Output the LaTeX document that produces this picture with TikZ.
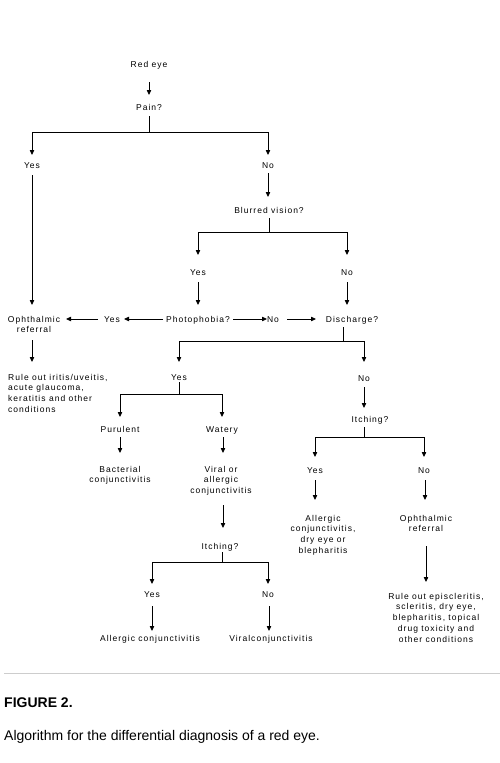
\documentclass[tikz,border=0pt]{standalone}
\usepackage{fontspec}
\usetikzlibrary{arrows.meta,calc}
\newfontfamily\dfont[LetterSpace=12]{Liberation Sans}
\newfontfamily\cfont{Liberation Sans}
\newcommand\mlc[1]{\begin{tabular}[t]{@{}c@{}}#1\end{tabular}}
\newcommand\mll[1]{\begin{tabular}[t]{@{}l@{}}#1\end{tabular}}
\tikzset{
  lbl/.style={font=\dfont\fontsize{8.5}{10.8}\selectfont, inner sep=0pt, anchor=base},
  arr/.style={-{Triangle[width=4.4pt,length=5pt]}, line width=0.9pt},
  ln/.style={line width=0.9pt},
}
\begin{document}
\begin{tikzpicture}[x=1pt,y=-1pt]
\useasboundingbox (0,0) rectangle (500,763);
% nodes
\node[lbl] (redeye) at (149,67) {Red eye};
\node[lbl] (pain) at (149,110) {Pain?};
\node[lbl] (yes1) at (32,168) {Yes};
\node[lbl] (no1) at (268,168) {No};
\node[lbl] (blurred) at (269,213) {Blurred vision?};
\node[lbl] (yes2) at (198,275) {Yes};
\node[lbl] (no2) at (347,275) {No};
\node[lbl] (ophth1) at (34,322) {\mlc{Ophthalmic\\referral}};
\node[lbl] (yes3) at (112,322) {Yes};
\node[lbl] (photo) at (198,322) {Photophobia?};
\node[lbl] (no3) at (273,322) {No};
\node[lbl] (discharge) at (352,322) {Discharge?};
\node[lbl, anchor=base west] (ruleout1) at (8,380) {\mll{Rule out iritis/uveitis,\\acute glaucoma,\\keratitis and other\\conditions}};
\node[lbl] (yes4) at (179,380) {Yes};
\node[lbl] (no4) at (364,381) {No};
\node[lbl] (itching1) at (370,422) {Itching?};
\node[lbl] (purulent) at (120,432) {Purulent};
\node[lbl] (watery) at (222,432) {Watery};
\node[lbl] (bacterial) at (120,472) {\mlc{Bacterial\\conjunctivitis}};
\node[lbl] (viral) at (221,472) {\mlc{Viral or\\allergic\\conjunctivitis}};
\node[lbl] (yes5) at (315,473) {Yes};
\node[lbl] (no5) at (424,473) {No};
\node[lbl] (allergic1) at (323,521) {\mlc{Allergic\\conjunctivitis,\\dry eye or\\blepharitis}};
\node[lbl] (ophth2) at (426,521) {\mlc{Ophthalmic\\referral}};
\node[lbl] (itching2) at (220,549) {Itching?};
\node[lbl] (yes6) at (152,597) {Yes};
\node[lbl] (no6) at (268,597) {No};
\node[lbl] (ruleout2) at (436,599) {\mlc{Rule out episcleritis,\\scleritis, dry eye,\\blepharitis, topical\\drug toxicity and\\other conditions}};
\node[lbl] (allergic2) at (150,641) {Allergic conjunctivitis};
\node[lbl] (viralc) at (271,641) {Viralconjunctivitis};
% caption
\coordinate (rl) at (4,673);
\coordinate (rr) at (500,673);
\draw[line width=0.8pt, color={rgb,255:red,205;green,205;blue,205}] (rl) -- (rr);
\node[font=\cfont\bfseries\fontsize{14}{16}\selectfont, inner sep=0pt, anchor=base west] (fig) at (4,707) {FIGURE 2.};
\node[font=\cfont\fontsize{14}{16}\selectfont, inner sep=0pt, anchor=base west] (algo) at (4,740) {Algorithm for the differential diagnosis of a red eye.};
% connectors
\draw[arr] ($(redeye.base)+(0,15)$) -- ($(pain.base)+(0,-15)$);
\coordinate (f1) at ($(pain.base)+(0,22)$);
\draw[ln] ($(pain.base)+(0,6)$) -- (f1);
\draw[arr] (f1) -| ($(yes1.base)+(0,-13)$);
\draw[arr] (f1) -| ($(no1.base)+(0,-13)$);
\draw[arr] ($(yes1.base)+(0,7)$) -- ($(yes1.base |- ophth1.base)+(0,-17)$);
\draw[arr] ($(no1.base)+(0,5)$) -- ($(no1.base |- blurred.base)+(0,-16)$);
\coordinate (f2) at ($(blurred.base)+(0,19)$);
\draw[ln] ($(blurred.base)+(0,5)$) -- (f2);
\draw[arr] (f2) -| ($(yes2.base)+(0,-20)$);
\draw[arr] (f2) -| ($(no2.base)+(0,-20)$);
\draw[arr] ($(yes2.base)+(0,7)$) -- ($(photo.base)+(0,-17)$);
\draw[arr] ($(no2.base)+(0,7)$) -- ($(no2.base |- discharge.base)+(0,-17)$);
\draw[arr] ($(photo.base)+(35,-3)$) -- ($(no3.base)+(-6,-3)$);
\draw[arr] ($(no3.base)+(14,-3)$) -- ($(discharge.base)+(-36,-3)$);
\draw[arr] ($(photo.base)+(-35,-3)$) -- ($(yes3.base)+(12,-3)$);
\draw[arr] ($(yes3.base)+(-14,-3)$) -- ($(ophth1.base)+(32,-3)$);
\draw[arr] ($(yes1.base |- ophth1.base)+(0,18)$) -- ($(yes1.base |- ruleout1.base)+(0,-18)$);
\coordinate (f3) at ($(discharge.base)+(-9,19)$);
\draw[ln] ($(discharge.base)+(-9,5)$) -- (f3);
\draw[arr] (f3) -| ($(yes4.base)+(0,-18)$);
\draw[arr] (f3) -| ($(no4.base)+(0,-19)$);
\coordinate (f4) at ($(yes4.base)+(0,14)$);
\draw[ln] ($(yes4.base)+(0,2)$) -- (f4);
\draw[arr] (f4) -| ($(purulent.base)+(0,-15)$);
\draw[arr] (f4) -| ($(watery.base)+(0,-15)$);
\draw[arr] ($(no4.base)+(0,6)$) -- ($(no4.base |- itching1.base)+(0,-14)$);
\draw[arr] ($(purulent.base)+(0,5)$) -- ($(bacterial.base)+(0,-19)$);
\draw[arr] ($(watery.base)+(1,5)$) -- ($(viral.base)+(2,-19)$);
\draw[arr] ($(viral.base)+(2,33)$) -- ($(viral.base |- itching2.base)+(2,-21)$);
\coordinate (f5) at ($(itching2.base)+(2,13)$);
\draw[ln] ($(itching2.base)+(2,3)$) -- (f5);
\draw[arr] (f5) -| ($(yes6.base)+(0,-13)$);
\draw[arr] (f5) -| ($(no6.base)+(0,-13)$);
\draw[arr] ($(yes6.base)+(0,9)$) -- ($(yes6.base |- allergic2.base)+(0,-10)$);
\draw[arr] ($(no6.base)+(1,9)$) -- ($(no6.base |- viralc.base)+(1,-10)$);
\coordinate (f6) at ($(itching1.base)+(-6,15)$);
\draw[ln] ($(itching1.base)+(-6,5)$) -- (f6);
\draw[arr] (f6) -| ($(yes5.base)+(0,-16)$);
\draw[arr] (f6) -| ($(no5.base)+(0,-16)$);
\draw[arr] ($(yes5.base)+(0,7)$) -- ($(yes5.base |- allergic1.base)+(0,-21)$);
\draw[arr] ($(no5.base)+(1,7)$) -- ($(no5.base |- ophth2.base)+(1,-21)$);
\draw[arr] ($(ophth2.base)+(0,25)$) -- ($(ophth2.base |- ruleout2.base)+(0,-17)$);
\end{tikzpicture}
\end{document}
